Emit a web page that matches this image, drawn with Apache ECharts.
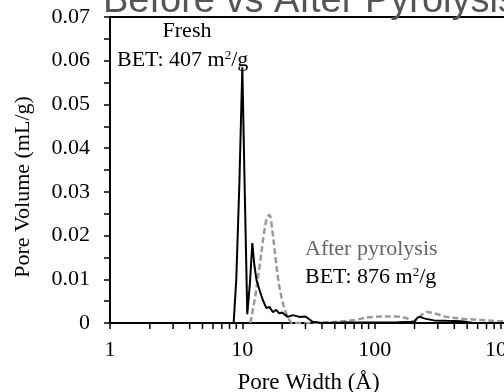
<!DOCTYPE html>
<html>
<head>
<meta charset="utf-8">
<script src="https://cdn.jsdelivr.net/npm/echarts@6/dist/echarts.min.js"></script>
<style>
  html, body { margin: 0; padding: 0; background: #fff; overflow: hidden; }
  #chart { width: 504px; height: 392px; }
</style>
</head>
<body>
<div id="chart"></div>
<script>
// Pore size distribution, fresh sample (solid)
const freshWidth  = [1, 8.6, 9.0, 9.5, 10.0, 10.4, 10.9, 11.4, 11.9, 12.3, 12.8, 13.5, 14.3, 15.2, 16.0, 17.0, 18.0, 19.0, 20.0, 22.0, 24.0, 27.0, 30.0, 34.0, 40, 60, 100, 150, 200, 210, 220, 240, 280, 350, 450, 560, 1000];
const freshVolume = [0, 0, 0.010, 0.032, 0.0585, 0.032, 0.002, 0.009, 0.0183, 0.0135, 0.0098, 0.0075, 0.0052, 0.0034, 0.0037, 0.0025, 0.0030, 0.0022, 0.0024, 0.0014, 0.0018, 0.0014, 0.0015, 0.0003, 0, 0.0001, 0.0001, 0.0002, 0.0003, 0.0012, 0.0014, 0.0010, 0.0006, 0.0005, 0.0004, 0, 0];

// Pore size distribution after pyrolysis (dashed)
const pyroWidth  = [11.5, 12.5, 13.5, 14.5, 15.3, 16.0, 16.8, 17.8, 19.0, 20.5, 22.0, 24.0, 30, 40, 54, 70, 97, 146, 175, 194, 215, 247, 290, 350, 450, 620, 920, 1000];
const pyroVolume = [0, 0.006, 0.013, 0.020, 0.0240, 0.0247, 0.0215, 0.0150, 0.0085, 0.0040, 0.0015, 0, 0, 0.0001, 0.0003, 0.0007, 0.0014, 0.0015, 0.0011, 0.0004, 0.0012, 0.0025, 0.0021, 0.0014, 0.0010, 0.0007, 0.0004, 0.0004];

// Axis ticks
const yTicks = [0, 0.01, 0.02, 0.03, 0.04, 0.05, 0.06, 0.07];
const xDecades = [1, 10, 100, 1000];
const xMinorTicks = [2, 3, 4, 5, 6, 7, 8, 9, 20, 30, 40, 50, 60, 70, 80, 90, 200, 300, 400, 500, 600, 700, 800, 900];

const zip = (xs, ys) => xs.map((x, i) => [x, ys[i]]);
const serif = 'Liberation Serif, Times New Roman, serif';

const chart = echarts.init(document.getElementById('chart'), null, { renderer: 'canvas' });

chart.setOption({
  backgroundColor: '#fff',
  animation: false,
  grid: {
    left: 110, top: 17, width: 397, height: 306,
    outerBoundsMode: 'none', containLabel: false,
    show: true, borderColor: '#000', borderWidth: 2, backgroundColor: 'transparent'
  },
  xAxis: {
    type: 'log', logBase: 10,
    min: xDecades[0], max: xDecades[xDecades.length - 1],
    name: 'Pore Width (Å)', nameLocation: 'middle', nameGap: 48,
    nameTextStyle: { fontFamily: serif, fontSize: 23, color: '#000' },
    axisLine: { show: true, lineStyle: { color: '#000', width: 2 } },
    axisTick: { show: true, inside: false, length: 6, lineStyle: { color: '#000', width: 1.5 } },
    axisLabel: { margin: 16, fontFamily: serif, fontSize: 22, color: '#000',
      showMaxLabel: true, formatter: v => String(Math.round(v)) },
    splitLine: { show: false }
  },
  yAxis: {
    type: 'value', min: yTicks[0], max: yTicks[yTicks.length - 1], interval: 0.01,
    axisLine: { show: true, lineStyle: { color: '#000', width: 2 } },
    axisTick: { show: true, inside: false, length: 6, lineStyle: { color: '#000', width: 1.5 } },
    minorTick: { show: true, splitNumber: 2, length: 6, lineStyle: { color: '#000', width: 1.5 } },
    axisLabel: { margin: 20, fontFamily: serif, fontSize: 22, color: '#000',
      formatter: v => (v === 0 ? '0' : v.toFixed(2)) },
    splitLine: { show: false }
  },
  series: [
    {
      name: 'After pyrolysis', type: 'line', showSymbol: false, smooth: 0.35,
      data: zip(pyroWidth, pyroVolume),
      lineStyle: { color: '#9a9a9a', width: 2.5, type: [6, 3] },
      z: 2
    },
    {
      name: 'Fresh', type: 'line', showSymbol: false, smooth: false,
      data: zip(freshWidth, freshVolume),
      lineStyle: { color: '#000', width: 2 },
      z: 3
    },
    {
      // minor ticks at 2..9 of each decade on the log axis
      name: 'minorTicks', type: 'custom', silent: true, clip: false,
      data: xMinorTicks.map(v => [v, 0]),
      encode: { x: 0, y: 1 },
      renderItem: (params, api) => {
        const p = api.coord([api.value(0), 0]);
        return {
          type: 'line',
          shape: { x1: p[0], y1: p[1], x2: p[0], y2: p[1] + 6 },
          style: { stroke: '#000', lineWidth: 1.5 }
        };
      },
      z: 4
    }
  ],
  graphic: [
    {
      type: 'text', left: 103, top: -17,
      style: { text: 'Before vs After Pyrolysis', fill: '#555',
        font: '38px "Liberation Sans", Arial, sans-serif' }
    },
    {
      type: 'text', x: 23, y: 187, rotation: Math.PI / 2,
      style: { text: 'Pore Volume (mL/g)', fill: '#000', align: 'center', verticalAlign: 'middle',
        font: '22px "Liberation Serif", "Times New Roman", serif' }
    },
    {
      type: 'text', x: 187, y: 31,
      style: { text: 'Fresh', fill: '#000', align: 'center', verticalAlign: 'middle',
        font: '22px "Liberation Serif", "Times New Roman", serif' }
    },
    {
      type: 'text', x: 117, y: 60,
      style: {
        text: '{b|BET: 407 m}{s|2}{b|/g}', align: 'left', verticalAlign: 'middle',
        rich: {
          b: { fontFamily: serif, fontSize: 22, color: '#000' },
          s: { fontFamily: serif, fontSize: 13, color: '#000', padding: [0, 0, 9, 0] }
        }
      }
    },
    {
      type: 'text', x: 305, y: 249,
      style: { text: 'After pyrolysis', fill: '#666', align: 'left', verticalAlign: 'middle',
        font: '22px "Liberation Serif", "Times New Roman", serif' }
    },
    {
      type: 'text', x: 305, y: 277,
      style: {
        text: '{b|BET: 876 m}{s|2}{b|/g}', align: 'left', verticalAlign: 'middle',
        rich: {
          b: { fontFamily: serif, fontSize: 22, color: '#666' },
          s: { fontFamily: serif, fontSize: 13, color: '#666', padding: [0, 0, 9, 0] }
        }
      }
    }
  ]
});
</script>
</body>
</html>
